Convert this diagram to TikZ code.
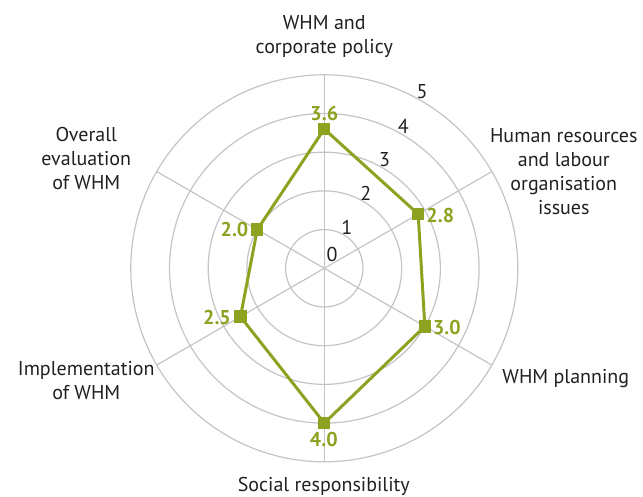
\documentclass[tikz,border=0pt]{standalone}
\usepackage{fontspec}
\setmainfont{PT Sans}
\definecolor{whmgreen}{RGB}{141,162,32}
\definecolor{gridgray}{RGB}{196,196,196}
\definecolor{txtgray}{RGB}{35,31,32}
\begin{document}
\begin{tikzpicture}[x=0.5pt, y=0.5pt]
\tikzset{ring/.style={draw=gridgray, line width=0.6pt},
  carre/.style={fill=whmgreen, minimum size=6.2pt, inner sep=0pt},
  valeur/.style={text=whmgreen, inner sep=0pt, font=\bfseries\fontsize{10}{12}\selectfont},
  axe/.style={text=txtgray, align=center, inner sep=0pt, font=\fontsize{10}{12}\selectfont},
  echelle/.style={text=txtgray, inner sep=0pt, font=\fontsize{10}{12}\selectfont}}
\useasboundingbox (-324.3,-228.7) rectangle (318.7,268.3);
\coordinate (O) at (0,0);
% rings
\draw[ring] (O) circle (38.7);
\draw[ring] (O) circle (77.4);
\draw[ring] (O) circle (116.1);
\draw[ring] (O) circle (154.8);
\draw[ring] (O) circle (193.5);
% spokes
\coordinate (A1) at (90:193.5);
\coordinate (A2) at (30:193.5);
\coordinate (A3) at (-30:193.5);
\coordinate (A4) at (-90:193.5);
\coordinate (A5) at (210:193.5);
\coordinate (A6) at (150:193.5);
\draw[ring] (O) -- (A1);
\draw[ring] (O) -- (A2);
\draw[ring] (O) -- (A3);
\draw[ring] (O) -- (A4);
\draw[ring] (O) -- (A5);
\draw[ring] (O) -- (A6);
% scale
\node[echelle] (E0) at (61:16) {0};
\node[echelle] (E1) at (61:46.7) {1};
\node[echelle] (E2) at (61:85.4) {2};
\node[echelle] (E3) at (61:124.1) {3};
\node[echelle] (E4) at (61:162.8) {4};
\node[echelle] (E5) at (61:201.5) {5};
% axis labels
\node[axe] (L1) at (0,232) {WHM and\\corporate policy};
\node[axe] (L2) at (239.5,96.8) {Human resources\\and labour\\organisation\\issues};
\node[axe] (L3) at (241.5,-110) {WHM planning};
\node[axe] (L4) at (-0.5,-218.4) {Social responsibility};
\node[axe] (L5) at (-238,-112.7) {Implementation\\of WHM};
\node[axe] (L6) at (-238,109.3) {Overall\\evaluation\\of WHM};
% values
\coordinate (P1) at (90:139.3);
\coordinate (P2) at (30:108.4);
\coordinate (P3) at (-30:116.1);
\coordinate (P4) at (-90:154.8);
\coordinate (P5) at (210:96.8);
\coordinate (P6) at (150:77.4);
\draw[whmgreen, line width=1.5pt] (P1) -- (P2) -- (P3) -- (P4) -- (P5) -- (P6) -- cycle;
\node[carre] (V1) at (P1) {};
\node[carre] (V2) at (P2) {};
\node[carre] (V3) at (P3) {};
\node[carre] (V4) at (P4) {};
\node[carre] (V5) at (P5) {};
\node[carre] (V6) at (P6) {};
\node[valeur] (N1) at (0,154.3) {3.6};
\node[valeur] (N2) at (116,52.3) {2.8};
\node[valeur] (N3) at (122.5,-59.4) {3.0};
\node[valeur] (N4) at (-0.5,-171.7) {4.0};
\node[valeur] (N5) at (-107.3,-49.4) {2.5};
\node[valeur] (N6) at (-89.8,38.3) {2.0};
\end{tikzpicture}
\end{document}
